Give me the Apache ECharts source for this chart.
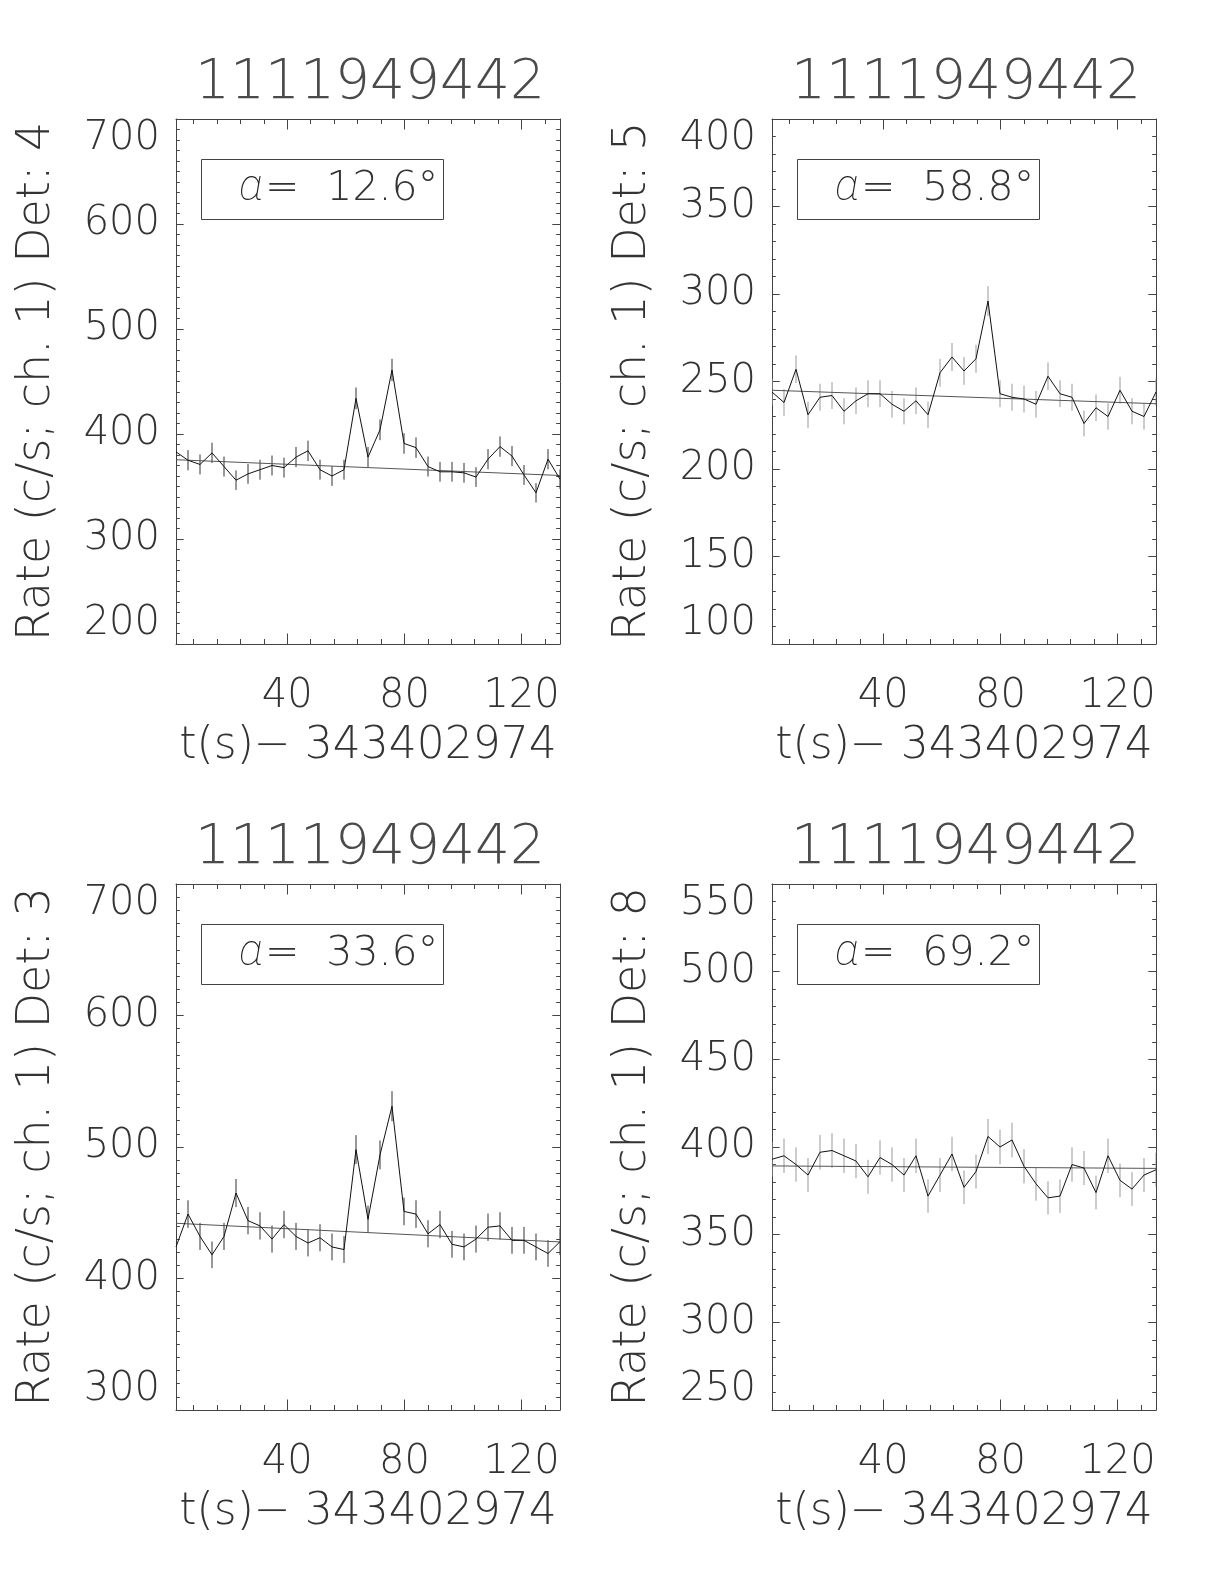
<!DOCTYPE html>
<html><head><meta charset="utf-8">
<script src="https://cdn.jsdelivr.net/npm/echarts@6/dist/echarts.min.js"></script>
<style>html,body{margin:0;padding:0;background:#fff}#c{width:1224px;height:1584px}</style>
</head><body><div id="c"></div>
<script>
// ---------------- data ----------------
const burstId = '1111949442';
const xAxisName = 't(s)\u2212 343402974';
const times = [2.048, 6.144, 10.24, 14.336, 18.432, 22.528, 26.624, 30.72, 34.816, 38.912,
  43.008, 47.104, 51.2, 55.296, 59.392, 63.488, 67.584, 71.68, 75.776, 79.872,
  83.968, 88.064, 92.16, 96.256, 100.352, 104.448, 108.544, 112.64, 116.736, 120.832,
  124.928, 129.024, 133.12];
const xMajorTicks = [40, 80, 120];
const xMinorTicks = [8, 16, 24, 32, 48, 56, 64, 72, 88, 96, 104, 112, 128];

// Det 4 (top left)
const rates1 = [383, 375, 371, 382, 369, 356, 362, 366, 370, 368, 378, 384, 366, 360, 366, 434, 378, 404, 461, 391, 387, 369, 364, 364, 363, 359, 376, 388, 379, 361, 344, 376, 357];
const errs1 = [9.7, 9.6, 9.5, 9.7, 9.5, 9.3, 9.4, 9.5, 9.5, 9.5, 9.6, 9.7, 9.5, 9.4, 9.5, 10.3, 9.6, 9.9, 10.6, 9.8, 9.7, 9.5, 9.4, 9.4, 9.4, 9.4, 9.6, 9.7, 9.6, 9.4, 9.2, 9.6, 9.3];
const fit1 = [375.5, 360.5];
// Det 5 (top right)
const rates2 = [244, 238, 257, 231, 241, 242, 233, 239, 243, 243, 237, 233, 239, 231, 255, 264, 256, 263, 296, 243, 241, 240, 237, 253, 243, 241, 226, 235, 230, 245, 233, 230, 244];
const errs2 = [7.7, 7.6, 7.9, 7.5, 7.7, 7.7, 7.5, 7.6, 7.7, 7.7, 7.6, 7.5, 7.6, 7.5, 7.9, 8.0, 7.9, 8.0, 8.5, 7.7, 7.7, 7.7, 7.6, 7.9, 7.7, 7.7, 7.4, 7.6, 7.5, 7.7, 7.5, 7.5, 7.7];
const fit2 = [245.0, 237.3];
// Det 3 (bottom left)
const rates3 = [424, 449, 432, 418, 432, 465, 444, 440, 430, 441, 432, 427, 431, 424, 422, 498, 445, 494, 531, 451, 449, 434, 441, 426, 424, 430, 439, 440, 429, 429, 424, 419, 428];
const errs3 = [10.2, 10.5, 10.3, 10.1, 10.3, 10.7, 10.4, 10.4, 10.3, 10.4, 10.3, 10.2, 10.3, 10.2, 10.2, 11.0, 10.4, 11.0, 11.4, 10.5, 10.5, 10.3, 10.4, 10.2, 10.2, 10.3, 10.4, 10.4, 10.2, 10.2, 10.2, 10.1, 10.2];
const fit3 = [442.0, 427.8];
// Det 8 (bottom right)
const rates4 = [393, 395, 390, 384, 397, 398, 395, 392, 383, 394, 390, 384, 395, 372, 384, 396, 377, 386, 406, 400, 404, 389, 379, 371, 372, 390, 388, 374, 395, 381, 376, 384, 387];
const errs4 = [9.8, 9.8, 9.8, 9.7, 9.9, 9.9, 9.8, 9.8, 9.7, 9.8, 9.8, 9.7, 9.8, 9.5, 9.7, 9.8, 9.6, 9.7, 10.0, 9.9, 9.9, 9.8, 9.6, 9.5, 9.5, 9.8, 9.7, 9.6, 9.8, 9.6, 9.6, 9.7, 9.7];
const fit4 = [389.2, 387.8];

const detectors = ['4', '5', '3', '8'];
const angles = ['12.6', '58.8', '33.6', '69.2'];
const yMins = [200, 100, 300, 250];
const yMaxs = [700, 400, 700, 550];
const ySteps = [100, 50, 100, 50];
const yMinorSplits = [10, 5, 10, 5];

// ---------------- layout / style ----------------
const FONT = "'DejaVu Sans', sans-serif";
const FW = 200;
const TXT = '#333';
const AX = '#444';
const gridsPos = [
  {left: 176, top: 119, width: 384, height: 525},
  {left: 772, top: 119, width: 384, height: 525},
  {left: 176, top: 884, width: 384, height: 526},
  {left: 772, top: 884, width: 384, height: 526}
];
const ratesAll = [rates1, rates2, rates3, rates4];
const errsAll = [errs1, errs2, errs3, errs4];
const fitsAll = [fit1, fit2, fit3, fit4];
const barColors = ['#333', '#999', '#333', '#999'];

const grid = [], xAxis = [], yAxis = [], series = [], graphic = [];
const xMin = times[0], xMax = times[times.length - 1];

gridsPos.forEach((g, i) => {
  grid.push(Object.assign({outerBoundsMode: 'none', containLabel: false}, g));
  const lineStyle = {color: AX, width: 1};
  const baseX = {type: 'value', gridIndex: i, min: xMin, max: xMax, splitLine: {show: false}};
  xAxis.push(Object.assign({}, baseX, {
    position: 'bottom',
    axisLine: {show: true, lineStyle},
    axisTick: {show: true, inside: true, length: 10.5, customValues: xMajorTicks, lineStyle},
    axisLabel: {show: true, customValues: xMajorTicks, fontSize: 40, fontFamily: FONT, fontWeight: FW, color: TXT, margin: 33},
    name: xAxisName, nameLocation: 'middle', nameGap: 81,
    nameTextStyle: {fontSize: 44, fontFamily: FONT, fontWeight: FW, color: TXT}
  }));
  xAxis.push(Object.assign({}, baseX, {
    position: 'bottom',
    axisLine: {show: false},
    axisTick: {show: true, inside: true, length: 5, customValues: xMinorTicks, lineStyle},
    axisLabel: {show: false}
  }));
  xAxis.push(Object.assign({}, baseX, {
    position: 'top',
    axisLine: {show: true, lineStyle},
    axisTick: {show: true, inside: true, length: 10.5, customValues: xMajorTicks, lineStyle},
    axisLabel: {show: false}
  }));
  xAxis.push(Object.assign({}, baseX, {
    position: 'top',
    axisLine: {show: false},
    axisTick: {show: true, inside: true, length: 5, customValues: xMinorTicks, lineStyle},
    axisLabel: {show: false}
  }));
  const baseY = {type: 'value', gridIndex: i, min: yMins[i], max: yMaxs[i], interval: ySteps[i],
    splitLine: {show: false}, minorSplitLine: {show: false},
    axisLine: {show: true, lineStyle},
    axisTick: {show: true, inside: true, length: 7.7, lineStyle},
    minorTick: {show: true, splitNumber: yMinorSplits[i], length: 3.8, lineStyle}};
  yAxis.push(Object.assign({}, baseY, {
    position: 'left',
    axisLabel: {show: true, fontSize: 40, fontFamily: FONT, fontWeight: FW, color: TXT, margin: 16,
      verticalAlignMinLabel: 'bottom', verticalAlignMaxLabel: 'top'},
    name: 'Rate (c/s; ch. 1) Det: ' + detectors[i], nameLocation: 'middle', nameRotate: 90, nameGap: 116,
    nameTextStyle: {fontSize: 46, fontFamily: FONT, fontWeight: FW, color: TXT}
  }));
  yAxis.push(Object.assign({}, baseY, {position: 'right', axisLabel: {show: false}}));

  const xi = 4 * i, yi = 2 * i;
  const rates = ratesAll[i], errs = errsAll[i], fit = fitsAll[i];
  series.push({
    type: 'custom', xAxisIndex: xi, yAxisIndex: yi, silent: true, clip: true, z: 2,
    data: times.map((t, k) => [t, rates[k] - errs[k], rates[k] + errs[k]]),
    encode: {x: 0, y: [1, 2]},
    renderItem: (params, api) => {
      const p1 = api.coord([api.value(0), api.value(1)]);
      const p2 = api.coord([api.value(0), api.value(2)]);
      return {type: 'line', shape: {x1: p1[0], y1: p1[1], x2: p2[0], y2: p2[1]},
        style: {stroke: barColors[i], lineWidth: 1}};
    }
  });
  series.push({
    type: 'line', xAxisIndex: xi, yAxisIndex: yi, silent: true, z: 3,
    data: [[xMin, fit[0]], [xMax, fit[1]]],
    showSymbol: false, symbol: 'none', lineStyle: {color: '#555', width: 1}
  });
  series.push({
    type: 'line', xAxisIndex: xi, yAxisIndex: yi, silent: true, z: 4,
    data: times.map((t, k) => [t, rates[k]]),
    showSymbol: false, symbol: 'none', lineStyle: {color: '#111', width: 1}
  });

  graphic.push({type: 'text', x: g.left + g.width / 2 + 2, y: g.top - 35,
    style: {text: burstId, fontSize: 55, fontFamily: FONT, fontWeight: FW, fill: '#4a4a4a', align: 'center', verticalAlign: 'middle'}});
  graphic.push({type: 'rect', shape: {x: g.left + 25.5, y: g.top + 40.5, width: 242, height: 60},
    style: {fill: 'none', stroke: AX, lineWidth: 1}});
  graphic.push({type: 'text', x: g.left + 63, y: g.top + 70,
    style: {text: '{a|\u03b1}{b|=} ' + angles[i] + '\u00b0', fontSize: 41, fontFamily: FONT, fontWeight: FW, fill: TXT,
      align: 'left', verticalAlign: 'middle',
      rich: {
        a: {fontSize: 44, fontFamily: "Roboto, 'DejaVu Sans', sans-serif", fontStyle: 'italic', fontWeight: 100, fill: '#222', padding: [0, 2, 0, 0]},
        b: {fontSize: 41, fontFamily: FONT, fontWeight: FW, fill: TXT, padding: [0, 14, 0, 0]}
      }}});
});

const chart = echarts.init(document.getElementById('c'), null, {renderer: 'canvas'});
chart.setOption({animation: false, backgroundColor: '#fff', grid, xAxis, yAxis, series, graphic});
</script>
</body></html>
